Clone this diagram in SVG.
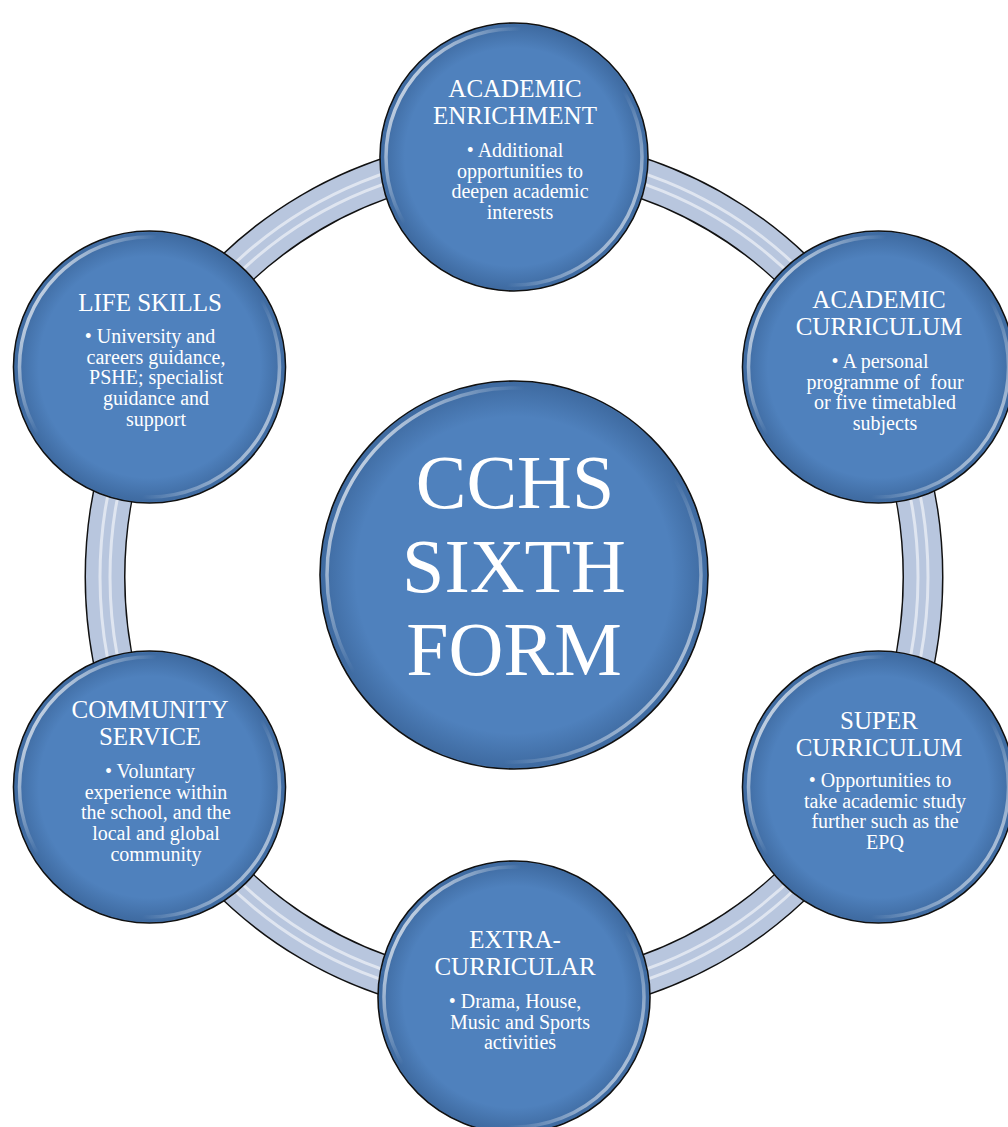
<svg xmlns="http://www.w3.org/2000/svg" width="1008" height="1127" viewBox="0 0 1008 1127">
  <style>
    .node { fill: #4F81BD; stroke: #111; stroke-width: 1.6; }
    .shade { fill: url(#rim); stroke: none; }
    .gloss { fill: none; stroke: url(#hl); stroke-width: 3.5; }
    .band-out { fill: none; stroke: #111; stroke-width: 41; }
    .band-in { fill: none; stroke: #B8C6DE; stroke-width: 38; }
    .band-hl { fill: none; stroke: #FFFFFF; stroke-opacity: 0.55; stroke-width: 3; }
    text { font-family: "Liberation Serif", "Times New Roman", serif; fill: #FFFFFF; text-anchor: middle; }
    .title { font-size: 25px; }
    .body { font-size: 20px; }
    .big { font-size: 76px; }
  </style>
  <defs>
    <radialGradient id="rim" cx="0.5" cy="0.5" r="0.5">
      <stop offset="0.82" stop-color="#1F3F6A" stop-opacity="0"/>
      <stop offset="1" stop-color="#1F3F6A" stop-opacity="0.35"/>
    </radialGradient>
    <linearGradient id="hl" x1="0" y1="0.2" x2="1" y2="0.8">
      <stop offset="0" stop-color="#FFFFFF" stop-opacity="0.85"/>
      <stop offset="0.3" stop-color="#FFFFFF" stop-opacity="0"/>
      <stop offset="0.7" stop-color="#FFFFFF" stop-opacity="0"/>
      <stop offset="1" stop-color="#FFFFFF" stop-opacity="0.7"/>
    </linearGradient>
  </defs>
  <rect width="1008" height="1127" fill="#FFFFFF"/>

  <g id="connectors">
    <path id="c1" class="band-out" d="M514 157 A409 420 0 0 1 868.2 367"/>
    <path id="c2" class="band-out" d="M868.2 367 A409 420 0 0 1 868.2 787"/>
    <path id="c3" class="band-out" d="M868.2 787 A409 420 0 0 1 514 997"/>
    <path id="c4" class="band-out" d="M514 997 A409 420 0 0 1 159.8 787"/>
    <path id="c5" class="band-out" d="M159.8 787 A409 420 0 0 1 159.8 367"/>
    <path id="c6" class="band-out" d="M159.8 367 A409 420 0 0 1 514 157"/>
    <ellipse class="band-in" cx="514" cy="577" rx="409" ry="420"/>
    <ellipse class="band-hl" cx="514" cy="577" rx="404" ry="415"/>
    <ellipse class="band-hl" cx="514" cy="577" rx="414" ry="425" stroke-opacity="0.35"/>
  </g>

  <g id="center">
    <circle class="node" cx="514" cy="575" r="194"/>
    <circle class="shade" cx="514" cy="575" r="193"/>
    <circle class="gloss" cx="514" cy="575" r="187"/>
    <text class="big" x="515" y="508">CCHS</text>
    <text class="big" x="514" y="592">SIXTH</text>
    <text class="big" x="514" y="675">FORM</text>
  </g>

  <g id="academic-enrichment">
    <circle class="node" cx="514" cy="157" r="134"/>
    <circle class="shade" cx="514" cy="157" r="133"/>
    <circle class="gloss" cx="514" cy="157" r="128"/>
    <text class="title" x="515" y="97">ACADEMIC</text>
    <text class="title" x="515" y="124">ENRICHMENT</text>
    <text class="body" x="515" y="157">• Additional</text>
    <text class="body" x="520" y="177.7">opportunities to</text>
    <text class="body" x="520" y="198.4">deepen academic</text>
    <text class="body" x="520" y="219">interests</text>
  </g>

  <g id="academic-curriculum">
    <circle class="node" cx="878.5" cy="367" r="136"/>
    <circle class="shade" cx="878.5" cy="367" r="135"/>
    <circle class="gloss" cx="878.5" cy="367" r="130"/>
    <text class="title" x="879" y="308">ACADEMIC</text>
    <text class="title" x="879" y="335">CURRICULUM</text>
    <text class="body" x="880" y="368">• A personal</text>
    <text class="body" x="885" y="388.7">programme of&#160; four</text>
    <text class="body" x="885" y="409.4">or five timetabled</text>
    <text class="body" x="885" y="430">subjects</text>
  </g>

  <g id="super-curriculum">
    <circle class="node" cx="878.5" cy="787" r="136"/>
    <circle class="shade" cx="878.5" cy="787" r="135"/>
    <circle class="gloss" cx="878.5" cy="787" r="130"/>
    <text class="title" x="879" y="729">SUPER</text>
    <text class="title" x="879" y="756">CURRICULUM</text>
    <text class="body" x="880" y="787">• Opportunities to</text>
    <text class="body" x="885" y="807.7">take academic study</text>
    <text class="body" x="885" y="828.4">further such as the</text>
    <text class="body" x="885" y="849">EPQ</text>
  </g>

  <g id="extra-curricular">
    <circle class="node" cx="514" cy="997" r="136"/>
    <circle class="shade" cx="514" cy="997" r="135"/>
    <circle class="gloss" cx="514" cy="997" r="130"/>
    <text class="title" x="515" y="948">EXTRA-</text>
    <text class="title" x="515" y="975">CURRICULAR</text>
    <text class="body" x="515" y="1008">• Drama, House,</text>
    <text class="body" x="520" y="1028.7">Music and Sports</text>
    <text class="body" x="520" y="1049.4">activities</text>
  </g>

  <g id="community-service">
    <circle class="node" cx="149.5" cy="787" r="136"/>
    <circle class="shade" cx="149.5" cy="787" r="135"/>
    <circle class="gloss" cx="149.5" cy="787" r="130"/>
    <text class="title" x="150" y="718">COMMUNITY</text>
    <text class="title" x="150" y="745">SERVICE</text>
    <text class="body" x="150" y="778">• Voluntary</text>
    <text class="body" x="156" y="798.7">experience within</text>
    <text class="body" x="156" y="819.4">the school, and the</text>
    <text class="body" x="156" y="840">local and global</text>
    <text class="body" x="156" y="861">community</text>
  </g>

  <g id="life-skills">
    <circle class="node" cx="149.5" cy="367" r="136"/>
    <circle class="shade" cx="149.5" cy="367" r="135"/>
    <circle class="gloss" cx="149.5" cy="367" r="130"/>
    <text class="title" x="150" y="311">LIFE SKILLS</text>
    <text class="body" x="150" y="343">• University and</text>
    <text class="body" x="156" y="363.7">careers guidance,</text>
    <text class="body" x="156" y="384.4">PSHE; specialist</text>
    <text class="body" x="156" y="405">guidance and</text>
    <text class="body" x="156" y="426">support</text>
  </g>
</svg>
